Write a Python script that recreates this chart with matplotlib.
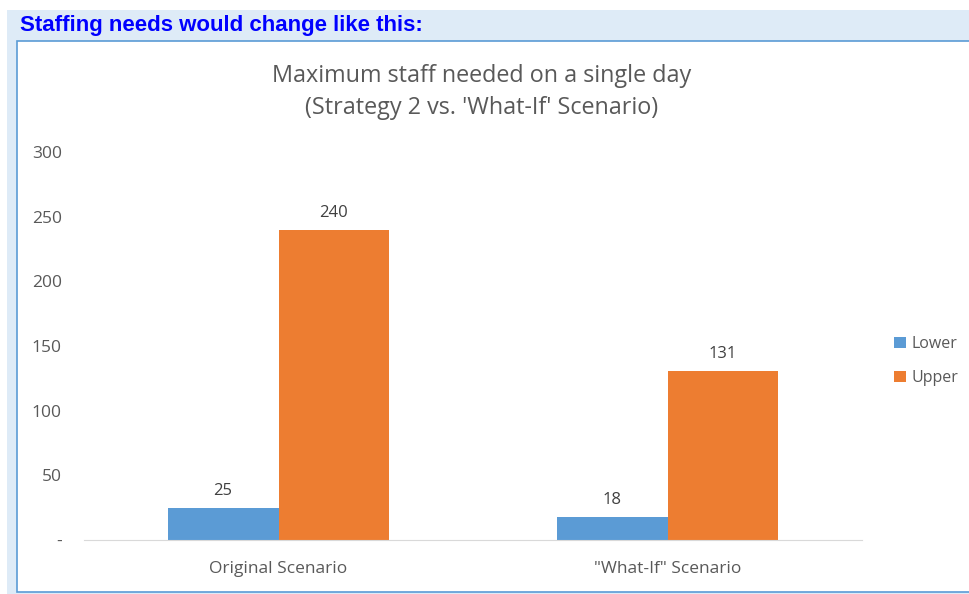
import matplotlib
matplotlib.use("Agg")
import matplotlib.pyplot as plt
import numpy as np
from matplotlib.patches import Rectangle

# data
categories = ["Original Scenario", "\"What-If\" Scenario"]
lower = [25, 18]
upper = [240, 131]
series_names = ["Lower", "Upper"]
yticks = [0, 50, 100, 150, 200, 250, 300]
ytick_labels = ["-", "50", "100", "150", "200", "250", "300"]

W, H = 969, 594
fig = plt.figure(figsize=(W / 100, H / 100), dpi=100)
fig.patch.set_facecolor("white")

def px(x0, y0, w, h):
    # pixel box (top-left origin) -> figure fraction
    return (x0 / W, 1 - (y0 + h) / H, w / W, h / H)

# light blue panel + white chart box
x, y, w, h = px(7, 10, 962, 584)
fig.patches.append(Rectangle((x, y), w, h, transform=fig.transFigure,
                             facecolor="#deebf7", edgecolor="none", zorder=0))
x, y, w, h = px(17, 41, 960, 551)
fig.patches.append(Rectangle((x, y), w, h, transform=fig.transFigure,
                             facecolor="white", edgecolor="#5b9bd5", lw=1.2, zorder=1))

fig.text(20 / W, 1 - 26 / H, "Staffing needs would change like this:",
         family="Liberation Sans", fontweight="bold", fontsize=16,
         color="#0000ff", va="center", ha="left")

ax = fig.add_axes(px(84, 152, 778, 388))
ax.set_facecolor("none")
ax.set_zorder(2)

xpos = np.arange(len(categories))
bw = 0.285
b1 = ax.bar(xpos - bw / 2, lower, bw, color="#5b9bd5", label=series_names[0])
b2 = ax.bar(xpos + bw / 2, upper, bw, color="#ed7d31", label=series_names[1])

font = "Open Sans"
for bars in (b1, b2):
    for r in bars:
        ax.annotate(f"{r.get_height():.0f}", (r.get_x() + r.get_width() / 2, r.get_height()),
                    xytext=(0, 6), textcoords="offset points", ha="center", va="bottom",
                    fontsize=12, color="#404040", family=font)

ax.set_xlim(-0.5, 1.5)
ax.set_ylim(0, 300)
ax.set_yticks(yticks)
ax.set_yticklabels(ytick_labels)
ax.set_xticks(xpos)
ax.set_xticklabels(categories)
ax.tick_params(length=0, labelsize=12.5, labelcolor="#595959")
ax.tick_params(axis="y", pad=16)
ax.tick_params(axis="x", pad=15)
for lab in ax.get_xticklabels() + ax.get_yticklabels():
    lab.set_family(font)
for s in ["top", "left", "right"]:
    ax.spines[s].set_visible(False)
ax.spines["bottom"].set_color("#d9d9d9")

fig.text(482 / W, 1 - 92 / H, "Maximum staff needed on a single day\n(Strategy 2 vs. 'What-If' Scenario)",
         ha="center", va="center", fontsize=16.8, color="#595959", family=font, linespacing=1.5)

leg = ax.legend(loc="center left", bbox_to_anchor=(880 / W, 1 - 361 / H), bbox_transform=fig.transFigure,
                frameon=False, handlelength=0.7, handleheight=0.7,
                labelspacing=1.1, handletextpad=0.4, prop={"family": font, "size": 11.5})
for t in leg.get_texts():
    t.set_color("#595959")

fig.savefig("out.png", dpi=100)
